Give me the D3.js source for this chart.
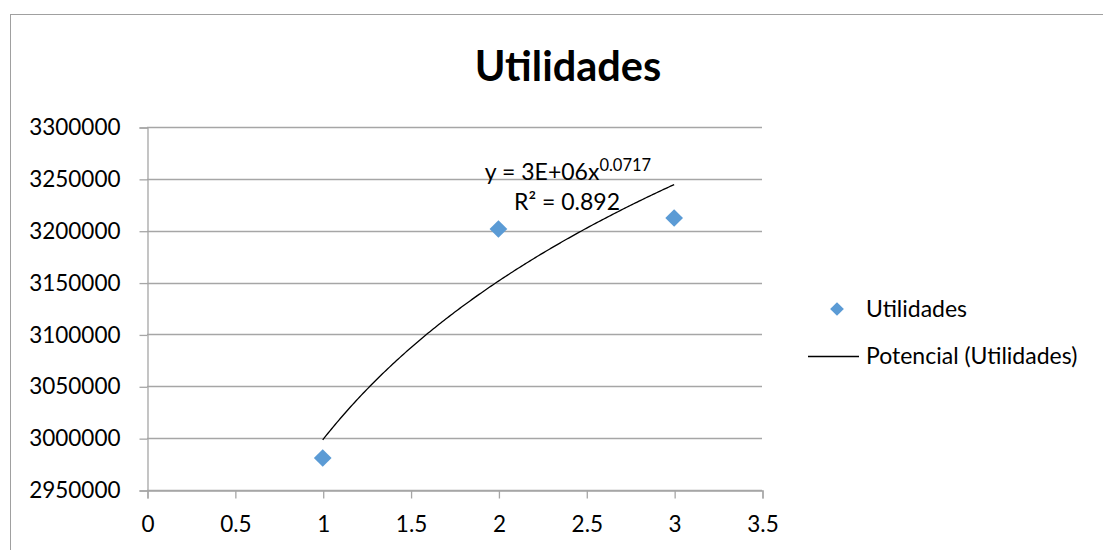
<!DOCTYPE html>
<html><head><meta charset="utf-8">
<script src="https://cdn.jsdelivr.net/npm/d3@7"></script>
<style>
body{margin:0;background:#fff;}
svg{display:block;font-family:Lato,"Open Sans",sans-serif;}
</style></head>
<body><svg id="c" width="1103" height="550"></svg>
<script>
const title = "Utilidades";
const xValues = [1, 2, 3];
const yValues = [2980850, 3201660, 3212260];
const xTicks = [0, 0.5, 1, 1.5, 2, 2.5, 3, 3.5];
const yTicks = [2950000, 3000000, 3050000, 3100000, 3150000, 3200000, 3250000, 3300000];
const seriesName = "Utilidades";
const trendName = "Potencial (Utilidades)";
const eqCoef = "3E+06", eqExp = "0.0717", r2Text = "0.892";

const svg = d3.select("#c");
// chart border (top & left visible)
svg.append("rect").attr("x",10.5).attr("y",14.5).attr("width",1200).attr("height",600)
  .attr("fill","#fff").attr("stroke","#a0a0a0").attr("stroke-width",1);

const x = d3.scaleLinear().domain([0,3.5]).range([147,762]);
const y = d3.scaleLinear().domain([2950000,3300000]).range([490,127]);

// gridlines
svg.append("g").selectAll("line").data(yTicks).join("line")
  .attr("x1",x(0)).attr("x2",x(3.5)).attr("y1",d=>Math.round(y(d))+0.5).attr("y2",d=>Math.round(y(d))+0.5)
  .attr("stroke","#a6a6a6").attr("stroke-width",1.3);

// y axis
const ya = svg.append("g").attr("transform",`translate(${x(0)+0.5},0.5)`)
  .call(d3.axisLeft(y).tickValues(yTicks).tickSize(8).tickPadding(19).tickFormat(d3.format("d")));
ya.select(".domain").attr("stroke","#a6a6a6").attr("stroke-width",1.3);
ya.selectAll(".tick line").attr("stroke","#a6a6a6").attr("stroke-width",1.3);
ya.selectAll("text").attr("font-size",22.5).attr("fill","#000").attr("font-family","Lato");

// x axis
const xa = svg.append("g").attr("transform",`translate(0.5,${y(2950000)+0.5})`)
  .call(d3.axisBottom(x).tickValues(xTicks).tickSize(8).tickPadding(18).tickFormat(d=>String(d)));
xa.select(".domain").attr("stroke","#a6a6a6").attr("stroke-width",1.3);
xa.selectAll(".tick line").attr("stroke","#a6a6a6").attr("stroke-width",1.3);
xa.selectAll("text").attr("font-size",22.5).attr("fill","#000").attr("font-family","Lato");

// power trendline fit (least squares in log-log)
const lx = xValues.map(Math.log), ly = yValues.map(Math.log);
const mx = d3.mean(lx), my = d3.mean(ly);
const b = d3.sum(lx.map((v,i)=>(v-mx)*(ly[i]-my))) / d3.sum(lx.map(v=>(v-mx)**2));
const a = Math.exp(my - b*mx);
const xs = d3.range(0,201).map(i=>1 + i*(2/200));
svg.append("path").datum(xs)
  .attr("d", d3.line().x(d=>x(d)).y(d=>y(a*Math.pow(d,b))))
  .attr("fill","none").attr("stroke","#000").attr("stroke-width",1.3);

// points
const diamond = d3.symbol().type(d3.symbolDiamond2).size(200);
svg.append("g").selectAll("path").data(xValues).join("path")
  .attr("d", diamond).attr("transform",(d,i)=>`translate(${x(d)},${y(yValues[i])})`)
  .attr("fill","#5b9bd5");

// equation
const eq = svg.append("text").attr("x",568).attr("y",180).attr("text-anchor","middle")
  .attr("font-size",23).attr("fill","#000");
eq.append("tspan").text(`y = ${eqCoef}x`);
eq.append("tspan").attr("font-size",16.5).attr("dy",-9).text(eqExp);
const r2 = svg.append("text").attr("x",567).attr("y",210).attr("text-anchor","middle")
  .attr("font-size",23).attr("fill","#000");
r2.append("tspan").text("R² = " + r2Text);

// title
svg.append("text").attr("x",568).attr("y",81).attr("text-anchor","middle")
  .attr("font-size",41.5).attr("font-weight","bold").attr("fill","#000").text(title);

// legend
svg.append("path").attr("d", d3.symbol().type(d3.symbolDiamond2).size(120))
  .attr("transform","translate(837,309)").attr("fill","#5b9bd5");
svg.append("text").attr("x",866).attr("y",309).attr("dy","0.35em").attr("font-size",23)
  .attr("fill","#000").text(seriesName);
svg.append("line").attr("x1",808).attr("x2",859).attr("y1",356.5).attr("y2",356.5)
  .attr("stroke","#000").attr("stroke-width",1.3);
svg.append("text").attr("x",866).attr("y",356).attr("dy","0.35em").attr("font-size",23)
  .attr("fill","#000").text(trendName);
</script></body></html>
